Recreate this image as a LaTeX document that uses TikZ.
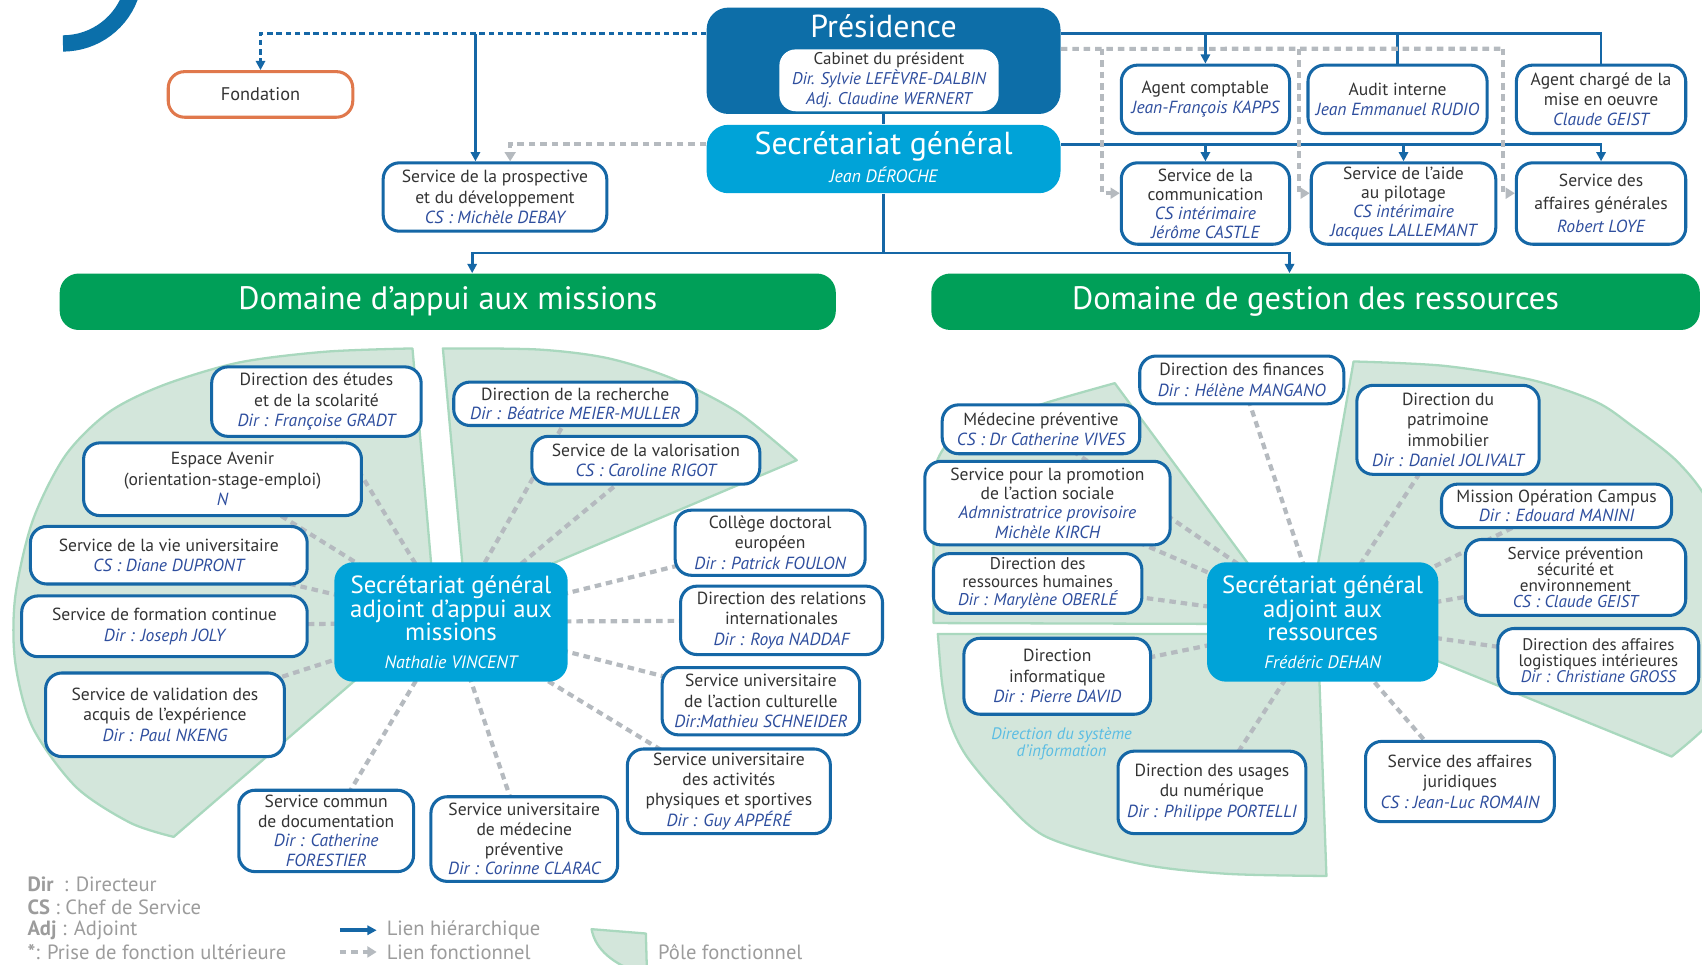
\documentclass[tikz,border=0pt]{standalone}
\usepackage{fontspec}
\setmainfont{PT Sans}
\usetikzlibrary{arrows.meta,calc}
\definecolor{boxblue}{HTML}{1567A6}
\definecolor{presblue}{HTML}{0D6EA8}
\definecolor{sgblue}{HTML}{00A3D8}
\definecolor{namecol}{HTML}{2E4E9E}
\definecolor{txtcol}{HTML}{333333}
\definecolor{domgreen}{HTML}{009F58}
\definecolor{polefill}{HTML}{D3E6DB}
\definecolor{poleline}{HTML}{A9D8BE}
\definecolor{lnkgrey}{HTML}{B5BABF}
\definecolor{orangeb}{HTML}{E0784C}
\definecolor{legendgrey}{HTML}{9C9C9C}
\definecolor{dsicol}{HTML}{5BBDE3}
\definecolor{arcblue}{HTML}{0B6FAA}
\newcommand{\nm}[1]{{\itshape\color{namecol}#1}}
\pgfdeclarelayer{polelayer}
\pgfdeclarelayer{linklayer}
\pgfsetlayers{polelayer,linklayer,main}
\begin{document}
\begin{tikzpicture}[x=0.02cm,y=-0.02cm,
 bx/.style={draw=boxblue, line width=1.6pt, fill=white, rounded corners=0.3cm, align=center, text=txtcol, inner sep=0pt, font=\fontsize{9.2}{10.7}\selectfont},
 sz/.style 2 args={minimum width=#1*0.02cm, minimum height=#2*0.02cm},
 hl/.style={draw=boxblue, line width=1.4pt},
 hla/.style={hl, -{Triangle[length=0.17cm,width=0.17cm]}},
 fl/.style={draw=lnkgrey, line width=2.2pt, dash pattern=on 0.12cm off 0.09cm},
 fla/.style={fl, -{Triangle[length=0.17cm,width=0.2cm]}},
 fldark/.style={draw=boxblue, line width=1.5pt, dash pattern=on 0.1cm off 0.07cm, -{Triangle[length=0.17cm,width=0.17cm]}},
 pole/.style={fill=polefill, draw=poleline, line width=1.2pt, line join=round},
 sgadj/.style={fill=sgblue, rounded corners=0.35cm, text=white, align=center, inner sep=0pt, font=\fontsize{13}{12.4}\selectfont},
 lgd/.style={anchor=west, text=legendgrey, inner sep=0pt, font=\fontsize{10.8}{12}\selectfont}
]
\useasboundingbox (0,0) rectangle (1568,889);
\begin{pgfonlayer}{polelayer}
\fill[white] (0,0) rectangle (1568,889);
% pole A
\draw[pole] (401,563) -- (380,321) -- plot[smooth] coordinates {(380,321) (300,324) (220,334) (150,355) (100,380) (60,420) (30,480) (14,550) (14,610) (30,670) (70,725) (120,758) (160,771)} -- cycle;
% pole B
\draw[pole] (429,553) -- (408,321) -- plot[smooth] coordinates {(408,321) (496,322) (560,330) (620,349) (680,380) (734,424)} -- cycle;
% pole C
\draw[pole] (1191,575) -- (1027,353) -- plot[smooth] coordinates {(1027,353) (964,371) (910,390) (875,407) (862,428) (860,450)} -- (860,574) -- cycle;
% pole D
\draw[pole] (1214,584) -- (864,584) -- plot[smooth] coordinates {(864,584) (868,630) (875,665) (890,696) (921,733) (964,771) (1051,796) (1130,805) (1222,807)} -- cycle;
% pole E
\draw[pole] (1207,561) -- (1247,333) -- plot[smooth] coordinates {(1247,333) (1330,337) (1411,350) (1470,370) (1503,392) (1545,425) (1575,465) (1600,540) (1598,610) (1580,660) (1540,697)} -- cycle;
% legend pole
\draw[pole] (545,856) -- (595,860) -- (596,895) -- (585,895) .. controls (560,885) and (548,872) .. (545,856) -- cycle;
\end{pgfonlayer}

% top-left arc
\draw[arcblue, line width=0.3cm] (58,40) arc[start angle=90, end angle=16, radius=66];

% top
\node[bx, draw=orangeb, sz={170}{42}, font=\fontsize{9.6}{11}\selectfont] (fond) at (240,87) {Fondation};
\node[bx, sz={206}{63}] (prosp) at (456,181.5) {Service de la prospective\\et du développement\\\nm{CS : Michèle DEBAY}};
\node[fill=presblue, rounded corners=0.4cm, sz={326}{98}, inner sep=0pt] (pres) at (814,56) {};
\node[text=white, inner sep=0pt, font=\fontsize{16.7}{18}\selectfont] (prest) at (814,24) {Présidence};
\node[fill=white, rounded corners=0.3cm, sz={202}{57}, inner sep=0pt, align=center, text=txtcol, font=\fontsize{8.9}{10.5}\selectfont] (cab) at (819,74) {Cabinet du président\\\nm{Dir. Sylvie LEFÈVRE-DALBIN}\\\nm{Adj. Claudine WERNERT}};
\node[fill=sgblue, rounded corners=0.4cm, sz={326}{63}, inner sep=0pt] (sg) at (814,146.5) {};
\node[text=white, inner sep=0pt, font=\fontsize{16.7}{18}\selectfont] (sgt) at (814,135) {Secrétariat général};
\node[text=white, inner sep=0pt, font=\fontsize{9.4}{10}\selectfont\itshape] (sgn) at (814,161) {Jean DÉROCHE};

\node[bx, sz={155}{63}] (ac1) at (1110.5,91.5) {Agent comptable\\\nm{Jean-François KAPPS}};
\node[bx, sz={165}{63}] (ac2) at (1287.5,91.5) {Audit interne\\\nm{Jean Emmanuel RUDIO}};
\node[bx, sz={156}{63}] (ac3) at (1475,91.5) {Agent chargé de la\\mise en oeuvre\\\nm{Claude GEIST}};
\node[bx, sz={155}{75}, font=\fontsize{9.2}{10}\selectfont] (sv1) at (1110.5,187.5) {Service de la\\communication\\\nm{CS intérimaire}\\\nm{Jérôme CASTLE}};
\node[bx, sz={170}{75}, font=\fontsize{9.2}{10}\selectfont] (sv2) at (1293,187.5) {Service de l’aide\\au pilotage\\\nm{CS intérimaire}\\\nm{Jacques LALLEMANT}};
\node[bx, sz={156}{75}, font=\fontsize{9.2}{12.2}\selectfont] (sv3) at (1475,187.5) {Service des\\affaires générales\\\nm{Robert LOYE}};

\node[fill=domgreen, rounded corners=0.35cm, sz={715}{52}, inner sep=0pt, text=white, font=\fontsize{17}{20}\selectfont] (dom1) at (412.5,278) {Domaine d’appui aux missions};
\node[fill=domgreen, rounded corners=0.35cm, sz={708}{52}, inner sep=0pt, text=white, font=\fontsize{17}{20}\selectfont] (dom2) at (1212,278) {Domaine de gestion des ressources};

% links top
\draw[fldark] ([yshift=0.5cm]pres.west) -| (fond.north);
\coordinate (j1) at (438,31);
\draw[hla] (j1) -- (j1 |- prosp.north);
\draw[fla] ([yshift=0.27cm]sg.west) -| ([xshift=0.28cm]prosp.north);
\draw[hl] (pres.south) -- (sg.north);
\coordinate (pr) at ([yshift=0.5cm]pres.east);
\draw[hl] (pr) -| (ac3.north);
\draw[hla] (pr -| ac1.north) -- (ac1.north);
\draw[hl] (pr -| ac2.north) -- (ac2.north);
\coordinate (sr) at ([yshift=0.27cm]sg.east);
\draw[hla] (sr) -| (sv3.north);
\draw[hla] (sr -| sv1.north) -- (sv1.north);
\draw[hla] (sr -| sv2.north) -- (sv2.north);
\coordinate (gf) at ([yshift=0.22cm]pres.east);
\coordinate (g1) at (1015,45);
\coordinate (g2) at (1197,45);
\coordinate (g3) at (1385,45);
\draw[fl] (gf) -- (g3);
\draw[fla] (g1) |- ([yshift=0.19cm]sv1.west);
\draw[fla] (g2) |- ([yshift=0.19cm]sv2.west);
\draw[fla] (g3) |- ([yshift=0.19cm]sv3.west);
\coordinate (jd) at (814,233);
\draw[hl] (sg.south) -- (jd);
\draw[hla] (jd) -| ([xshift=0.45cm]dom1.north);
\draw[hla] (jd) -| ([xshift=-0.48cm]dom2.north);

% left cluster
\node[sgadj, sz={215}{110}] (sga) at (415.5,573) {Secrétariat général\\adjoint d’appui aux\\missions\\[2pt]{\fontsize{9.4}{10}\selectfont\itshape Nathalie VINCENT}};
\node[bx, sz={193}{64}] (m1) at (291.5,370) {Direction des études\\et de la scolarité\\\nm{Dir : Françoise GRADT}};
\node[bx, sz={256}{67}] (m2) at (205,441.5) {Espace Avenir\\(orientation-stage-emploi)\\\nm{N}};
\node[bx, sz={255}{53}] (m3) at (155.5,511.5) {Service de la vie universitaire\\\nm{CS : Diane DUPRONT}};
\node[bx, sz={263}{56}] (m4) at (151.5,577) {Service de formation continue\\\nm{Dir : Joseph JOLY}};
\node[bx, sz={220}{77}] (m5) at (152,658.5) {Service de validation des\\acquis de l’expérience\\\nm{Dir : Paul NKENG}};
\node[bx, sz={224}{40}, font=\fontsize{9.2}{10}\selectfont] (m6) at (530,372) {Direction de la recherche\\\nm{Dir : Béatrice MEIER-MULLER}};
\node[bx, sz={210}{44}] (m7) at (595,424) {Service de la valorisation\\\nm{CS : Caroline RIGOT}};
\node[bx, sz={175}{60}] (m8) at (709.5,500) {Collège doctoral\\européen\\\nm{Dir : Patrick FOULON}};
\node[bx, sz={186}{63}] (m9) at (720,571.5) {Direction des relations\\internationales\\\nm{Dir : Roya NADDAF}};
\node[bx, sz={182}{62}] (m10) at (701,646) {Service universitaire\\de l'action culturelle\\\nm{Dir:Mathieu SCHNEIDER}};
\node[bx, sz={187}{78}] (m11) at (671.5,729) {Service universitaire\\des activités\\physiques et sportives\\\nm{Dir : Guy APPÉRÉ}};
\node[bx, sz={161}{75}, font=\fontsize{9.2}{10.2}\selectfont] (m12) at (300.5,765.5) {Service commun\\de documentation\\\nm{Dir : Catherine}\\\nm{FORESTIER}};
\node[bx, sz={172}{78}, font=\fontsize{9.2}{10.3}\selectfont] (m13) at (483,773) {Service universitaire\\de médecine\\préventive\\\nm{Dir : Corinne CLARAC}};

% right cluster
\node[sgadj, sz={213}{110}] (sgr) at (1218.5,573) {Secrétariat général\\adjoint aux\\ressources\\[2pt]{\fontsize{9.4}{10}\selectfont\itshape Frédéric DEHAN}};
\node[bx, sz={188}{44}] (r1) at (1144,350) {Direction des finances\\\nm{Dir : Hélène MANGANO}};
\node[bx, sz={182}{45}] (r2) at (959,395.5) {Médecine préventive\\\nm{CS : Dr Catherine VIVES}};
\node[bx, sz={226}{77}, font=\fontsize{9.2}{10.2}\selectfont] (r3) at (965,463.5) {Service pour la promotion\\de l'action sociale\\\nm{Admnistratrice provisoire}\\\nm{Michèle KIRCH}};
\node[bx, sz={192}{55}, font=\fontsize{8.9}{9.3}\selectfont] (r4) at (956,537.5) {Direction des\\ressources humaines\\\nm{Dir : Marylène OBERLÉ}};
\node[bx, sz={172}{70}] (r5) at (974,623) {Direction\\informatique\\\nm{Dir : Pierre DAVID}};
\node[bx, sz={173}{76}] (r6) at (1116.5,730) {Direction des usages\\du numérique\\\nm{Dir : Philippe PORTELLI}};
\node[bx, sz={168}{82}] (r7) at (1334,396) {Direction du\\patrimoine\\immobilier\\\nm{Dir : Daniel JOLIVALT}};
\node[bx, sz={212}{40}, font=\fontsize{9.2}{9.6}\selectfont] (r8) at (1434,466) {Mission Opération Campus\\\nm{Dir : Edouard MANINI}};
\node[bx, sz={203}{70}, font=\fontsize{9}{8.5}\selectfont] (r9) at (1451.5,532) {Service prévention\\sécurité et\\environnement\\\nm{CS : Claude GEIST}};
\node[bx, sz={185}{60}, font=\fontsize{8.8}{8.4}\selectfont] (r10) at (1472.5,609) {Direction des affaires\\logistiques intérieures\\\nm{Dir : Christiane GROSS}};
\node[bx, sz={174}{74}] (r11) at (1345,720) {Service des affaires\\juridiques\\\nm{CS : Jean-Luc ROMAIN}};
\node[text=dsicol, align=center, inner sep=0pt, font=\fontsize{8.7}{9.2}\selectfont\itshape] (dsi) at (978,685) {Direction du système\\d'information};

% radial links
\begin{pgfonlayer}{linklayer}
\foreach \t in {m1,m2,m3,m4,m5,m6,m7,m8,m9,m10,m11,m12,m13}
  \draw[fl] (sga.center) -- (\t.center);
\foreach \t in {r1,r2,r3,r4,r5,r6,r7,r8,r9,r10,r11}
  \draw[fl] (sgr.center) -- (\t.center);
\end{pgfonlayer}

% legend
\node[lgd] (lg1) at (25,815) {\textbf{Dir}\enspace: Directeur};
\node[lgd] (lg2) at (25,836) {\textbf{CS} : Chef de Service};
\node[lgd] (lg3) at (25,857) {\textbf{Adj} : Adjoint};
\node[lgd] (lg4) at (25,877) {\textbf{*}: Prise de fonction ultérieure};
\node[lgd] (lh) at (356,857) {Lien hiérarchique};
\node[lgd] (lf) at (356,877) {Lien fonctionnel};
\node[lgd] (lp) at (606,877) {Pôle fonctionnel};
\draw[hla, line width=2.2pt] ([xshift=-0.86cm]lh.west) -- ([xshift=-0.18cm]lh.west);
\draw[fla] ([xshift=-0.86cm]lf.west) -- ([xshift=-0.18cm]lf.west);
\end{tikzpicture}
\end{document}
